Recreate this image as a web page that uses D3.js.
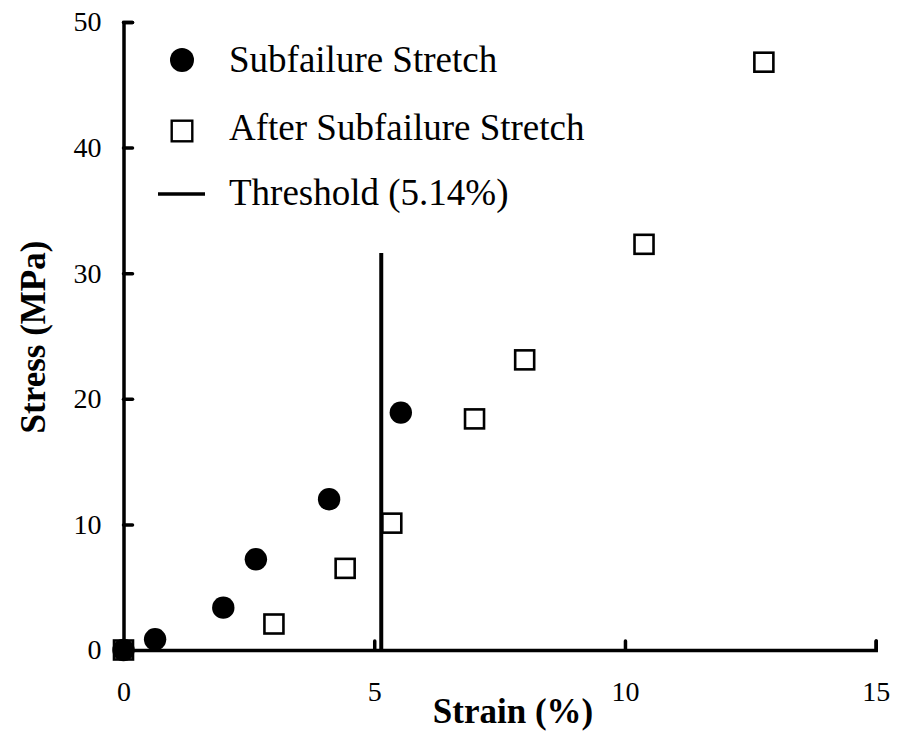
<!DOCTYPE html>
<html>
<head>
<meta charset="utf-8">
<script src="https://cdn.jsdelivr.net/npm/d3@7"></script>
<style>
  html, body { margin: 0; padding: 0; background: #fff; }
  svg { display: block; }
  svg text { font-family: "Liberation Serif", "Times New Roman", Times, serif; fill: #000; }
</style>
</head>
<body>
<svg id="chart" width="902" height="733"></svg>
<script>
// Stress–strain data (strain in %, stress in MPa)
const subfailureStrain = [0, 0.63, 1.99, 2.64, 4.10, 5.53];
const subfailureStress = [0, 0.85, 3.37, 7.22, 12.0, 18.9];

const afterStrain = [0, 3.0, 4.42, 5.35, 7.0, 8.0, 10.38, 12.77];
const afterStress = [0, 2.07, 6.5, 10.1, 18.4, 23.1, 32.3, 46.8];

const thresholdStrain = 5.14;
const thresholdStress = [0, 31.6];

const xTicks = [0, 5, 10, 15];
const yTicks = [0, 10, 20, 30, 40, 50];

const legendLabels = ["Subfailure Stretch", "After Subfailure Stretch", "Threshold (5.14%)"];

const serif = "'Liberation Serif', 'Times New Roman', Times, serif";
const svg = d3.select("#chart");

const x = d3.scaleLinear().domain([0, 15]).range([123.5, 875.7]);
const y = d3.scaleLinear().domain([0, 50]).range([650, 22]);

// Axes: ticks point into the plot area
const xAxis = d3.axisBottom(x).tickValues(xTicks).tickSize(-9).tickPadding(31).tickFormat(d3.format("d"));
const yAxis = d3.axisLeft(y).tickValues(yTicks).tickSize(-9).tickPadding(22).tickFormat(d3.format("d"));

const gx = svg.append("g").attr("transform", `translate(0,${y(0)})`).call(xAxis);
const gy = svg.append("g").attr("transform", `translate(${x(0)},0)`).call(yAxis);

[gx, gy].forEach(g => {
  g.attr("font-family", serif).attr("font-size", 28);
  g.select(".domain").attr("stroke", "#000").attr("stroke-width", 3.5).attr("stroke-linecap", "round");
  g.selectAll(".tick line").attr("stroke", "#000").attr("stroke-width", 3.5).attr("stroke-linecap", "round");
  g.selectAll(".tick text").attr("fill", "#000");
});

// Axis titles
svg.append("text")
  .attr("x", 513).attr("y", 723)
  .attr("text-anchor", "middle")
  .attr("font-weight", "bold").attr("font-size", 35)
  .text("Strain (%)");

svg.append("text")
  .attr("transform", "translate(45,337) rotate(-90)")
  .attr("text-anchor", "middle")
  .attr("font-weight", "bold").attr("font-size", 35)
  .text("Stress (MPa)");

// Threshold line
svg.append("line")
  .attr("x1", x(thresholdStrain)).attr("x2", x(thresholdStrain))
  .attr("y1", y(thresholdStress[0])).attr("y2", y(thresholdStress[1]))
  .attr("stroke", "#000").attr("stroke-width", 4);

// Subfailure stretch: filled circles
const circles = subfailureStrain.map((s, i) => ({ s, t: subfailureStress[i] }));
svg.append("g").selectAll("circle").data(circles).join("circle")
  .attr("cx", d => x(d.s)).attr("cy", d => y(d.t))
  .attr("r", 11.2).attr("fill", "#000");

// After subfailure stretch: open squares
const sq = 19;
const squares = afterStrain.map((s, i) => ({ s, t: afterStress[i] }));
svg.append("g").selectAll("rect").data(squares).join("rect")
  .attr("x", d => x(d.s) - sq / 2).attr("y", d => y(d.t) - sq / 2)
  .attr("width", sq).attr("height", sq)
  .attr("fill", "none").attr("stroke", "#000").attr("stroke-width", 2.6);

// Legend
const legend = svg.append("g");
const legendY = [60, 131, 194];
const baseY = [72, 140, 205];
legend.append("circle").attr("cx", 182).attr("cy", legendY[0]).attr("r", 12).attr("fill", "#000");
legend.append("rect").attr("x", 182 - 10.3).attr("y", legendY[1] - 10.3)
  .attr("width", 20.6).attr("height", 20.6)
  .attr("fill", "none").attr("stroke", "#000").attr("stroke-width", 2.4);
legend.append("line").attr("x1", 158).attr("x2", 205).attr("y1", legendY[2]).attr("y2", legendY[2])
  .attr("stroke", "#000").attr("stroke-width", 3.5);
legend.selectAll("text").data(legendLabels).join("text")
  .attr("x", 229).attr("y", (d, i) => baseY[i])
  .attr("font-size", 37)
  .text(d => d);
</script>
</body>
</html>
